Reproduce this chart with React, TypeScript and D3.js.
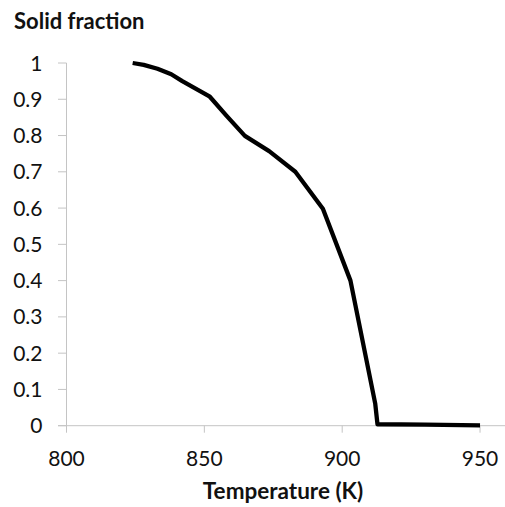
import React from "react";
import * as d3 from "d3";

const temperature = [824, 828, 833, 838, 842, 852, 858, 864.7, 873.5, 883, 893, 903, 912, 912.8, 930, 950];
const solidFraction = [1.0, 0.995, 0.984, 0.969, 0.95, 0.907, 0.855, 0.799, 0.757, 0.7, 0.598, 0.4, 0.06, 0.004, 0.003, 0.001];
const xTicks = [800, 850, 900, 950];
const yTicks = [0, 0.1, 0.2, 0.3, 0.4, 0.5, 0.6, 0.7, 0.8, 0.9, 1];

const W = 505;
const H = 507;
const FONT = "Lato, 'Open Sans', sans-serif";

export default function App() {
  const x = d3.scaleLinear().domain([800, 960]).range([66.5, 507.6]);
  const y = d3.scaleLinear().domain([0, 1]).range([425.7, 63]);
  const pts = temperature.map((t, i) => [t, solidFraction[i]] as [number, number]);
  const line = d3
    .line<[number, number]>()
    .x((d) => x(d[0]))
    .y((d) => y(d[1]));
  const axisColor = "#c4c4c4";
  return (
    <svg
      width={W}
      height={H}
      style={{ position: "absolute", left: 0, top: 0, background: "#fff" }}
    >
      <text x={14} y={28.5} fontFamily={FONT} fontWeight="bold" fontSize={22} fill="#111">
        Solid fraction
      </text>
      {/* y axis */}
      <line x1={x(800)} x2={x(800)} y1={y(1)} y2={y(0)} stroke={axisColor} strokeWidth={1} />
      {yTicks.map((t) => (
        <g key={"y" + t}>
          <line x1={x(800) - 8.5} x2={x(800)} y1={y(t)} y2={y(t)} stroke={axisColor} strokeWidth={1} />
          <text
            x={42.5}
            y={y(t)}
            dy="0.36em"
            textAnchor="end"
            fontFamily={FONT}
            fontSize={21}
            fill="#111"
          >
            {d3.format("~g")(t)}
          </text>
        </g>
      ))}
      {/* x axis */}
      <line x1={x(800) - 8.5} x2={W} y1={y(0)} y2={y(0)} stroke={axisColor} strokeWidth={1} />
      {xTicks.map((t) => (
        <g key={"x" + t}>
          <line x1={x(t)} x2={x(t)} y1={y(0)} y2={y(0) + 7} stroke={axisColor} strokeWidth={1} />
          <text
            x={x(t)}
            y={466}
            textAnchor="middle"
            fontFamily={FONT}
            fontSize={21}
            fill="#111"
          >
            {t}
          </text>
        </g>
      ))}
      <text x={283} y={498.5} textAnchor="middle" fontFamily={FONT} fontWeight="bold" fontSize={22.5} fill="#111">
        Temperature (K)
      </text>
      <path d={line(pts) || ""} fill="none" stroke="#000" strokeWidth={4.3} strokeLinejoin="round" strokeLinecap="butt" />
    </svg>
  );
}
